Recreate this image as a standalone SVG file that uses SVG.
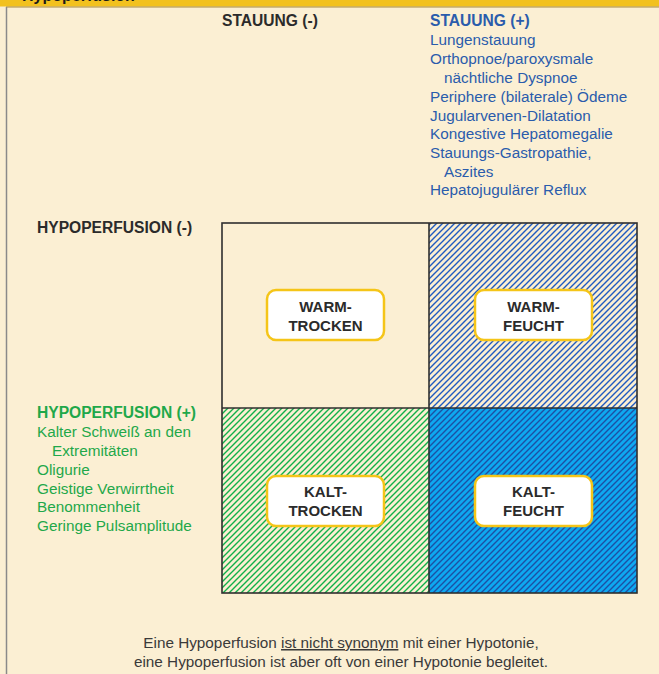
<svg xmlns="http://www.w3.org/2000/svg" width="659" height="674" viewBox="0 0 659 674">
  <style>
    text { font-family: "Liberation Sans", Arial, sans-serif; font-size: 15.3px; }
    .hd { font-weight: bold; font-size: 15.6px; }
    .dark { fill: #2b2b2b; }
    .blue { fill: #2a5cac; }
    .green { fill: #1fa84a; }
    .grid { fill: none; stroke: #2f2f2f; stroke-width: 1.6; }
    .tag rect { fill: #ffffff; stroke: #f5c518; stroke-width: 2.5; }
    .tag text { font-weight: bold; font-size: 15px; fill: #2b2b2b; text-anchor: middle; }
    .note { fill: #3a3a3a; text-anchor: middle; }
    .stripe { stroke-width: 1.4; fill: none; }
  </style>
  <defs>
    <pattern id="hatchBlue" patternUnits="userSpaceOnUse" width="6" height="6">
      <path class="stripe" d="M-1,1 l2,-2 M0,6 l6,-6 M5,7 l2,-2" stroke="#1f5ac0"/>
    </pattern>
    <pattern id="hatchGreen" patternUnits="userSpaceOnUse" width="6" height="6">
      <path class="stripe" d="M-1,1 l2,-2 M0,6 l6,-6 M5,7 l2,-2" stroke="#10b04a"/>
    </pattern>
    <pattern id="hatchDeep" patternUnits="userSpaceOnUse" width="6" height="6">
      <rect width="6" height="6" fill="#0ea8f0"/>
      <path class="stripe" d="M-1,1 l2,-2 M0,6 l6,-6 M5,7 l2,-2" stroke="#1c50a4"/>
    </pattern>
  </defs>

  <!-- page background -->
  <rect width="659" height="674" fill="#fbefd3"/>

  <!-- title bar -->
  <rect x="0" y="0" width="659" height="6.5" fill="#f2c11e"/>
  <line x1="6" y1="7" x2="659" y2="7" stroke="#a88a3a" stroke-width="1"/>
  <text x="22" y="1" class="hd" style="font-size:16px" fill="#1a1a1a">Hypoperfusion</text>
  <line x1="6.5" y1="7" x2="6.5" y2="674" stroke="#8a8a8a" stroke-width="1.5"/>

  <!-- congestion column headings -->
  <g id="congestion-neg">
    <text x="222" y="26" class="hd dark">STAUUNG (-)</text>
  </g>
  <g id="congestion-pos">
    <text x="430" y="26" class="hd blue">STAUUNG (+)</text>
    <text x="430" y="45" class="blue">Lungenstauung</text>
    <text x="430" y="64" class="blue">Orthopnoe/paroxysmale</text>
    <text x="444" y="83" class="blue">nächtliche Dyspnoe</text>
    <text x="430" y="102" class="blue">Periphere (bilaterale) Ödeme</text>
    <text x="430" y="121" class="blue">Jugularvenen-Dilatation</text>
    <text x="430" y="139" class="blue">Kongestive Hepatomegalie</text>
    <text x="430" y="158" class="blue">Stauungs-Gastropathie,</text>
    <text x="444" y="177" class="blue">Aszites</text>
    <text x="430" y="195" class="blue">Hepatojugulärer Reflux</text>
  </g>

  <!-- hypoperfusion row headings -->
  <g id="perfusion-neg">
    <text x="37" y="233" class="hd dark">HYPOPERFUSION (-)</text>
  </g>
  <g id="perfusion-pos">
    <text x="37" y="418" class="hd green">HYPOPERFUSION (+)</text>
    <text x="37" y="437" class="green">Kalter Schweiß an den</text>
    <text x="52" y="456" class="green">Extremitäten</text>
    <text x="37" y="475" class="green">Oligurie</text>
    <text x="37" y="494" class="green">Geistige Verwirrtheit</text>
    <text x="37" y="512" class="green">Benommenheit</text>
    <text x="37" y="531" class="green">Geringe Pulsamplitude</text>
  </g>

  <!-- quadrants -->
  <g id="quadrants">
    <rect x="222" y="223" width="207" height="185" fill="#fbefd3"/>
    <rect x="429" y="223" width="208" height="185" fill="url(#hatchBlue)"/>
    <rect x="222" y="408" width="207" height="185" fill="url(#hatchGreen)"/>
    <rect x="429" y="408" width="208" height="185" fill="url(#hatchDeep)"/>
    <rect x="222" y="223" width="415" height="370" class="grid"/>
    <line x1="429" y1="223" x2="429" y2="593" class="grid"/>
    <line x1="222" y1="408" x2="637" y2="408" class="grid"/>
  </g>

  <g id="warm-dry" class="tag">
    <rect x="267" y="290" width="117" height="50" rx="9"/>
    <text x="325.5" y="312">WARM-</text>
    <text x="325.5" y="331">TROCKEN</text>
  </g>
  <g id="warm-wet" class="tag">
    <rect x="475" y="290" width="117" height="50" rx="9"/>
    <text x="533.5" y="312">WARM-</text>
    <text x="533.5" y="331">FEUCHT</text>
  </g>
  <g id="cold-dry" class="tag">
    <rect x="267" y="476" width="117" height="50" rx="9"/>
    <text x="325.5" y="497">KALT-</text>
    <text x="325.5" y="516">TROCKEN</text>
  </g>
  <g id="cold-wet" class="tag">
    <rect x="475" y="476" width="117" height="50" rx="9"/>
    <text x="533.5" y="497">KALT-</text>
    <text x="533.5" y="516">FEUCHT</text>
  </g>

  <!-- footnote -->
  <g id="footnote">
    <text x="341" y="648" class="note">Eine Hypoperfusion <tspan text-decoration="underline">ist nicht synonym</tspan> mit einer Hypotonie,</text>
    <text x="341" y="667" class="note">eine Hypoperfusion ist aber oft von einer Hypotonie begleitet.</text>
  </g>
</svg>
